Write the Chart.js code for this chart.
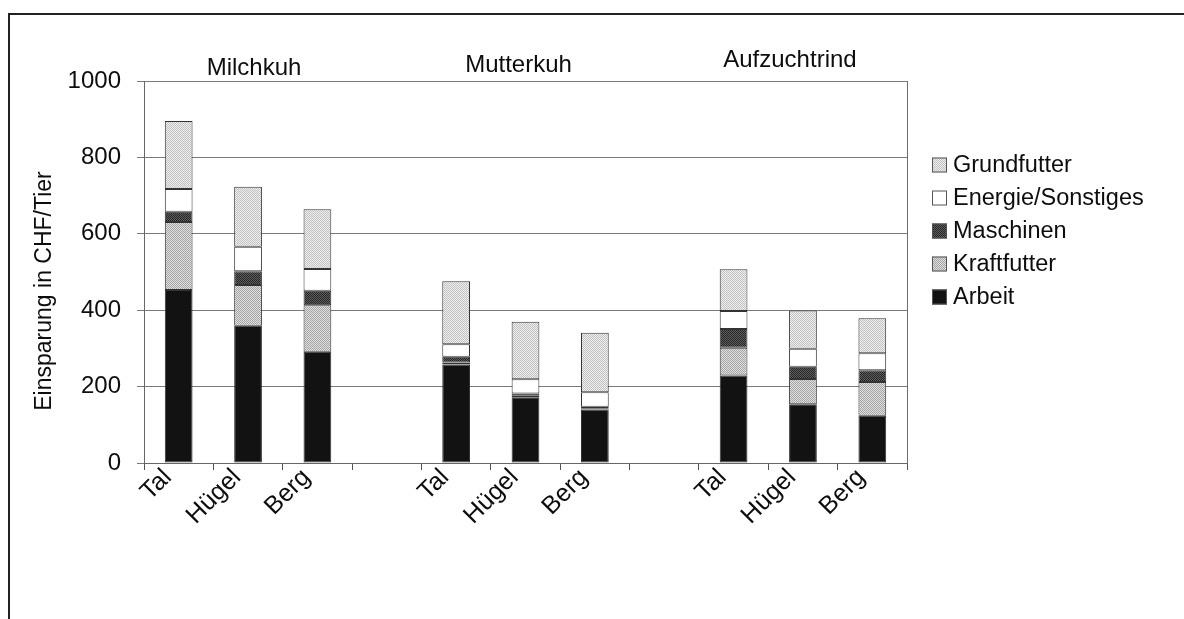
<!DOCTYPE html>
<html>
<head>
<meta charset="utf-8">
<script src="https://cdn.jsdelivr.net/npm/chart.js@4.4.1/dist/chart.umd.min.js"></script>
<style>
  html, body { margin: 0; padding: 0; background: #fff; }
  canvas { display: block; }
</style>
</head>
<body>
<canvas id="c" width="1184" height="619"></canvas>
<script>
// Savings per animal (CHF) by cost item, for three livestock types and three zones
const categories = ['Tal', 'Hügel', 'Berg', '', 'Tal', 'Hügel', 'Berg', '', 'Tal', 'Hügel', 'Berg'];
const groups = ['Milchkuh', 'Mutterkuh', 'Aufzuchtrind'];

const arbeit      = [453, 359, 291, null, 258, 172, 140, null, 229, 154, 124];
const kraftfutter = [178, 107, 122, null,   5,   4,   3, null,  73,  66,  88];
const maschinen   = [ 27,  36,  38, null,  15,   6,   4, null,  49,  32,  31];
const energie     = [ 59,  64,  57, null,  33,  37,  38, null,  47,  47,  44];
const grundfutter = [178, 157, 156, null, 165, 151, 156, null, 109, 100,  92];

const yTicks = [0, 200, 400, 600, 800, 1000];

const FONT = '"Liberation Sans", Arial, Helvetica, sans-serif';
const INK = '#0d0d0d';

// small halftone-like fills
function halftone(a, b) {
  const c = document.createElement('canvas');
  c.width = 2; c.height = 2;
  const g = c.getContext('2d');
  g.fillStyle = a; g.fillRect(0, 0, 2, 2);
  g.fillStyle = b; g.fillRect(0, 0, 1, 1); g.fillRect(1, 1, 1, 1);
  return g.createPattern(c, 'repeat');
}

const fills = {
  grund: halftone('#eeeeee', '#c2c2c2'),
  energie: '#ffffff',
  masch: halftone('#5e5e5e', '#262626'),
  kraft: halftone('#e0e0e0', '#a4a4a4'),
  arbeit: '#121212'
};

const ctx = document.getElementById('c').getContext('2d');

function ds(label, data, fill) {
  return {
    label, data,
    backgroundColor: fill,
    borderColor: '#333',
    borderWidth: 1,
    borderSkipped: false,
    categoryPercentage: 1,
    barPercentage: 0.4
  };
}

// frame, plot border, group headings, axis title and legend
const decor = {
  id: 'decor',
  afterDraw(chart) {
    const c = chart.ctx;
    const a = chart.chartArea;
    const xs = chart.scales.x;
    c.save();

    // outer frame (top and left edges)
    c.strokeStyle = '#222';
    c.lineWidth = 2;
    c.beginPath();
    c.moveTo(9, 619); c.lineTo(9, 14); c.lineTo(1184, 14);
    c.stroke();

    // right border of the plot area
    c.strokeStyle = '#6e6e6e';
    c.lineWidth = 1;
    c.beginPath();
    c.moveTo(Math.round(a.right) + 0.5, a.top); c.lineTo(Math.round(a.right) + 0.5, a.bottom);
    c.stroke();

    // group headings above the bars
    c.fillStyle = INK;
    c.font = '24px ' + FONT;
    c.textAlign = 'center';
    c.textBaseline = 'alphabetic';
    const headAt = [[1, 6, 75], [5, -7, 72], [9, -13, 67]];
    groups.forEach((g, i) => {
      const [idx, dx, by] = headAt[i];
      c.fillText(g, xs.getPixelForValue(idx) + dx, by);
    });

    // y axis title
    c.save();
    c.translate(45, 291);
    c.rotate(-Math.PI / 2);
    c.font = '23px ' + FONT;
    c.textAlign = 'center';
    c.textBaseline = 'middle';
    c.fillText('Einsparung in CHF/Tier', 0, 0);
    c.restore();

    // legend, top item is the top stack segment
    const items = chart.data.datasets.slice().reverse();
    const lx = 932, ly0 = 165, step = 33, box = 15;
    c.textAlign = 'left';
    c.textBaseline = 'middle';
    c.font = '23.5px ' + FONT;
    items.forEach((d, i) => {
      const y = ly0 + i * step;
      c.fillStyle = d.backgroundColor;
      c.fillRect(lx, y - box / 2, box, box);
      c.strokeStyle = '#555';
      c.lineWidth = 1;
      c.strokeRect(lx + 0.5, y - box / 2 + 0.5, box - 1, box - 1);
      c.fillStyle = INK;
      c.fillText(d.label, lx + 21, y + 1);
    });
    c.restore();
  }
};

new Chart(ctx, {
  type: 'bar',
  data: {
    labels: categories,
    datasets: [
      ds('Arbeit', arbeit, fills.arbeit),
      ds('Kraftfutter', kraftfutter, fills.kraft),
      ds('Maschinen', maschinen, fills.masch),
      ds('Energie/Sonstiges', energie, fills.energie),
      ds('Grundfutter', grundfutter, fills.grund)
    ]
  },
  options: {
    responsive: false,
    devicePixelRatio: 1,
    animation: false,
    layout: { padding: { top: 81, right: 277, bottom: 0, left: 0 } },
    plugins: { legend: { display: false }, tooltip: { enabled: false } },
    scales: {
      x: {
        stacked: true,
        grid: { offset: true, drawOnChartArea: false, drawTicks: true, tickLength: 7, color: '#555' },
        border: { color: '#666', width: 1 },
        ticks: {
          autoSkip: false, minRotation: 45, maxRotation: 45, padding: -7, labelOffset: -11,
          color: INK, font: { family: FONT, size: 25 }
        },
        afterFit(s) { s.height = 156; }
      },
      y: {
        stacked: true,
        min: 0, max: 1000,
        afterBuildTicks(s) { s.ticks = yTicks.map(v => ({ value: v })); },
        grid: { color: '#7a7a7a', tickLength: 7 },
        border: { color: '#666', width: 1 },
        ticks: {
          padding: 16, color: INK, font: { family: FONT, size: 24 },
          callback: v => String(v)
        },
        afterFit(s) { s.width = 144; }
      }
    }
  },
  plugins: [decor]
});
</script>
</body>
</html>
